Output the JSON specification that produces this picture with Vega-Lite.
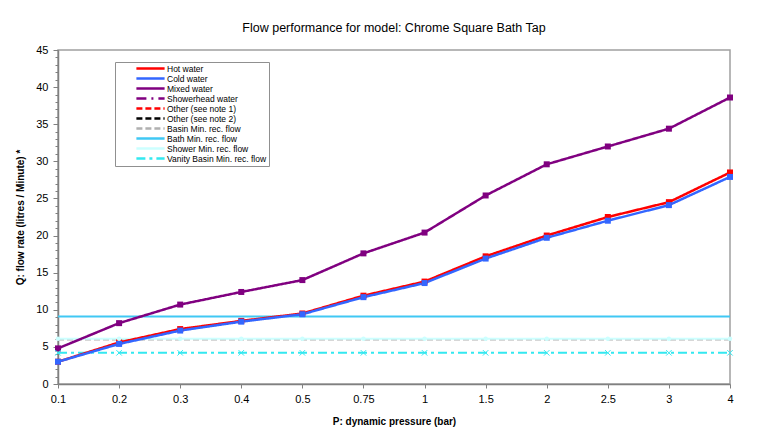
{
  "$schema": "https://vega.github.io/schema/vega-lite/v6.json",
  "width": 672,
  "height": 334,
  "autosize": {"type": "none"},
  "padding": {"left": 58, "top": 50, "right": 36, "bottom": 60},
  "background": "white",
  "title": {"text": "Flow performance for model: Chrome Square Bath Tap", "font": "Liberation Sans", "fontSize": 12.5, "fontWeight": "normal", "color": "#000000", "offset": 10, "anchor": "middle"},
  "config": {
    "view": {"stroke": "#A0A0A0", "strokeWidth": 1.5},
    "font": "Liberation Sans"
  },
  "data": {"values": [
    {"series": "Hot water", "P": "0.1", "Q": 3.0}, {"series": "Hot water", "P": "0.2", "Q": 5.6}, {"series": "Hot water", "P": "0.3", "Q": 7.4}, {"series": "Hot water", "P": "0.4", "Q": 8.5}, {"series": "Hot water", "P": "0.5", "Q": 9.5}, {"series": "Hot water", "P": "0.75", "Q": 11.9}, {"series": "Hot water", "P": "1", "Q": 13.8}, {"series": "Hot water", "P": "1.5", "Q": 17.2}, {"series": "Hot water", "P": "2", "Q": 20.0}, {"series": "Hot water", "P": "2.5", "Q": 22.5}, {"series": "Hot water", "P": "3", "Q": 24.5}, {"series": "Hot water", "P": "4", "Q": 28.5},
    {"series": "Cold water", "P": "0.1", "Q": 3.0}, {"series": "Cold water", "P": "0.2", "Q": 5.4}, {"series": "Cold water", "P": "0.3", "Q": 7.2}, {"series": "Cold water", "P": "0.4", "Q": 8.4}, {"series": "Cold water", "P": "0.5", "Q": 9.4}, {"series": "Cold water", "P": "0.75", "Q": 11.7}, {"series": "Cold water", "P": "1", "Q": 13.6}, {"series": "Cold water", "P": "1.5", "Q": 16.9}, {"series": "Cold water", "P": "2", "Q": 19.7}, {"series": "Cold water", "P": "2.5", "Q": 22.0}, {"series": "Cold water", "P": "3", "Q": 24.1}, {"series": "Cold water", "P": "4", "Q": 27.9},
    {"series": "Mixed water", "P": "0.1", "Q": 4.8}, {"series": "Mixed water", "P": "0.2", "Q": 8.2}, {"series": "Mixed water", "P": "0.3", "Q": 10.7}, {"series": "Mixed water", "P": "0.4", "Q": 12.4}, {"series": "Mixed water", "P": "0.5", "Q": 14.0}, {"series": "Mixed water", "P": "0.75", "Q": 17.6}, {"series": "Mixed water", "P": "1", "Q": 20.4}, {"series": "Mixed water", "P": "1.5", "Q": 25.4}, {"series": "Mixed water", "P": "2", "Q": 29.6}, {"series": "Mixed water", "P": "2.5", "Q": 32.0}, {"series": "Mixed water", "P": "3", "Q": 34.4}, {"series": "Mixed water", "P": "4", "Q": 38.6},
    {"series": "Basin Min. rec. flow", "P": "0.1", "Q": 6}, {"series": "Basin Min. rec. flow", "P": "0.2", "Q": 6}, {"series": "Basin Min. rec. flow", "P": "0.3", "Q": 6}, {"series": "Basin Min. rec. flow", "P": "0.4", "Q": 6}, {"series": "Basin Min. rec. flow", "P": "0.5", "Q": 6}, {"series": "Basin Min. rec. flow", "P": "0.75", "Q": 6}, {"series": "Basin Min. rec. flow", "P": "1", "Q": 6}, {"series": "Basin Min. rec. flow", "P": "1.5", "Q": 6}, {"series": "Basin Min. rec. flow", "P": "2", "Q": 6}, {"series": "Basin Min. rec. flow", "P": "2.5", "Q": 6}, {"series": "Basin Min. rec. flow", "P": "3", "Q": 6}, {"series": "Basin Min. rec. flow", "P": "4", "Q": 6},
    {"series": "Bath Min. rec. flow", "P": "0.1", "Q": 9.1}, {"series": "Bath Min. rec. flow", "P": "0.2", "Q": 9.1}, {"series": "Bath Min. rec. flow", "P": "0.3", "Q": 9.1}, {"series": "Bath Min. rec. flow", "P": "0.4", "Q": 9.1}, {"series": "Bath Min. rec. flow", "P": "0.5", "Q": 9.1}, {"series": "Bath Min. rec. flow", "P": "0.75", "Q": 9.1}, {"series": "Bath Min. rec. flow", "P": "1", "Q": 9.1}, {"series": "Bath Min. rec. flow", "P": "1.5", "Q": 9.1}, {"series": "Bath Min. rec. flow", "P": "2", "Q": 9.1}, {"series": "Bath Min. rec. flow", "P": "2.5", "Q": 9.1}, {"series": "Bath Min. rec. flow", "P": "3", "Q": 9.1}, {"series": "Bath Min. rec. flow", "P": "4", "Q": 9.1},
    {"series": "Shower Min. rec. flow", "P": "0.1", "Q": 6.1}, {"series": "Shower Min. rec. flow", "P": "0.2", "Q": 6.1}, {"series": "Shower Min. rec. flow", "P": "0.3", "Q": 6.1}, {"series": "Shower Min. rec. flow", "P": "0.4", "Q": 6.1}, {"series": "Shower Min. rec. flow", "P": "0.5", "Q": 6.1}, {"series": "Shower Min. rec. flow", "P": "0.75", "Q": 6.1}, {"series": "Shower Min. rec. flow", "P": "1", "Q": 6.1}, {"series": "Shower Min. rec. flow", "P": "1.5", "Q": 6.1}, {"series": "Shower Min. rec. flow", "P": "2", "Q": 6.1}, {"series": "Shower Min. rec. flow", "P": "2.5", "Q": 6.1}, {"series": "Shower Min. rec. flow", "P": "3", "Q": 6.1}, {"series": "Shower Min. rec. flow", "P": "4", "Q": 6.1},
    {"series": "Vanity Basin Min. rec. flow", "P": "0.1", "Q": 4.2}, {"series": "Vanity Basin Min. rec. flow", "P": "0.2", "Q": 4.2}, {"series": "Vanity Basin Min. rec. flow", "P": "0.3", "Q": 4.2}, {"series": "Vanity Basin Min. rec. flow", "P": "0.4", "Q": 4.2}, {"series": "Vanity Basin Min. rec. flow", "P": "0.5", "Q": 4.2}, {"series": "Vanity Basin Min. rec. flow", "P": "0.75", "Q": 4.2}, {"series": "Vanity Basin Min. rec. flow", "P": "1", "Q": 4.2}, {"series": "Vanity Basin Min. rec. flow", "P": "1.5", "Q": 4.2}, {"series": "Vanity Basin Min. rec. flow", "P": "2", "Q": 4.2}, {"series": "Vanity Basin Min. rec. flow", "P": "2.5", "Q": 4.2}, {"series": "Vanity Basin Min. rec. flow", "P": "3", "Q": 4.2}, {"series": "Vanity Basin Min. rec. flow", "P": "4", "Q": 4.2}
  ]},
  "encoding": {
    "x": {
      "field": "P", "type": "ordinal",
      "sort": ["0.1", "0.2", "0.3", "0.4", "0.5", "0.75", "1", "1.5", "2", "2.5", "3", "4"],
      "scale": {"type": "point", "padding": 0},
      "axis": {
        "title": "P: dynamic pressure (bar)", "titleFont": "Liberation Sans", "titleFontSize": 10, "titleFontWeight": "bold", "titleColor": "#000000", "titlePadding": 12,
        "labelAngle": 0, "labelFont": "Liberation Sans", "labelFontSize": 11, "labelColor": "#000000", "labelPadding": 5,
        "tickSize": 4, "tickColor": "#808080", "domainColor": "#808080", "domainWidth": 1.5, "grid": false
      }
    },
    "y": {
      "field": "Q", "type": "quantitative",
      "scale": {"domain": [0, 45], "nice": false},
      "axis": {
        "title": "Q: flow rate (litres  / Minute) *", "titleFont": "Liberation Sans", "titleFontSize": 10, "titleFontWeight": "bold", "titleColor": "#000000", "titlePadding": 10,
        "values": [0,1,2,3,4,5,6,7,8,9,10,11,12,13,14,15,16,17,18,19,20,21,22,23,24,25,26,27,28,29,30,31,32,33,34,35,36,37,38,39,40,41,42,43,44,45],
        "labelExpr": "datum.value % 5 === 0 ? datum.label : ''",
        "labelFont": "Liberation Sans", "labelFontSize": 11, "labelColor": "#000000", "labelPadding": 5,
        "tickSize": {"condition": {"test": "datum.value % 5 === 0", "value": 5}, "value": 3},
        "tickColor": "#808080", "domainColor": "#808080", "domainWidth": 1.5, "grid": false
      }
    }
  },
  "layer": [
    {
      "transform": [{"filter": {"field": "series", "oneOf": ["Basin Min. rec. flow", "Bath Min. rec. flow", "Shower Min. rec. flow", "Vanity Basin Min. rec. flow"]}}],
      "mark": {"type": "line", "strokeWidth": 2},
      "encoding": {
        "color": {"field": "series", "type": "nominal",
          "scale": {
            "domain": ["Hot water", "Cold water", "Mixed water", "Showerhead water", "Other (see note 1)", "Other (see note 2)", "Basin Min. rec. flow", "Bath Min. rec. flow", "Shower Min. rec. flow", "Vanity Basin Min. rec. flow"],
            "range": ["#FF0000", "#3366FF", "#800080", "#800080", "#FF0000", "#000000", "#B0B0B0", "#40C8F4", "#CCFFFF", "#33E8F0"]
          },
          "legend": {
            "orient": "none", "legendX": 57, "legendY": 12, "title": null,
            "strokeColor": "#909090", "fillColor": "#FFFFFF", "padding": 2,
            "labelFont": "Liberation Sans", "labelFontSize": 8.5, "labelColor": "#000000",
            "symbolType": "M-4.7,0H4.7", "symbolSize": 36, "symbolStrokeWidth": 2.5, "symbolOffset": 29, "labelOffset": 12, "rowPadding": -3.4, "labelLimit": 200
          }
        },
        "strokeDash": {"field": "series", "type": "nominal",
          "scale": {
            "domain": ["Hot water", "Cold water", "Mixed water", "Showerhead water", "Other (see note 1)", "Other (see note 2)", "Basin Min. rec. flow", "Bath Min. rec. flow", "Shower Min. rec. flow", "Vanity Basin Min. rec. flow"],
            "range": [[1, 0], [1, 0], [1, 0], [10, 5, 2, 5], [6, 3], [6, 3], [6, 3], [1, 0], [1, 0], [9, 4, 3, 4]]
          },
          "legend": {
            "orient": "none", "legendX": 57, "legendY": 12, "title": null,
            "strokeColor": "#909090", "fillColor": "#FFFFFF", "padding": 2,
            "labelFont": "Liberation Sans", "labelFontSize": 8.5, "labelColor": "#000000",
            "symbolType": "M-4.7,0H4.7", "symbolSize": 36, "symbolStrokeWidth": 2.5, "symbolOffset": 29, "labelOffset": 12, "rowPadding": -3.4, "labelLimit": 200
          }
        }
      }
    },
    {
      "transform": [{"filter": {"field": "series", "oneOf": ["Hot water", "Cold water", "Mixed water"]}}],
      "mark": {"type": "line", "strokeWidth": 2.5},
      "encoding": {
        "color": {"field": "series", "type": "nominal"},
        "strokeDash": {"field": "series", "type": "nominal"}
      }
    },
    {
      "transform": [{"filter": {"field": "series", "oneOf": ["Hot water", "Cold water", "Mixed water"]}}],
      "mark": {"type": "point", "shape": "square", "filled": true, "opacity": 1, "size": 36},
      "encoding": {
        "color": {"field": "series", "type": "nominal"}
      }
    },
    {
      "transform": [{"filter": {"field": "series", "equal": "Shower Min. rec. flow"}}],
      "mark": {"type": "point", "shape": "circle", "filled": true, "opacity": 1, "size": 20},
      "encoding": {
        "color": {"field": "series", "type": "nominal"}
      }
    },
    {
      "transform": [{"filter": {"field": "series", "equal": "Vanity Basin Min. rec. flow"}}],
      "mark": {"type": "point", "shape": "M-1,-1L1,1M-1,1L1,-1", "filled": false, "opacity": 1, "size": 30, "strokeWidth": 1},
      "encoding": {
        "color": {"field": "series", "type": "nominal"}
      }
    }
  ]
}
